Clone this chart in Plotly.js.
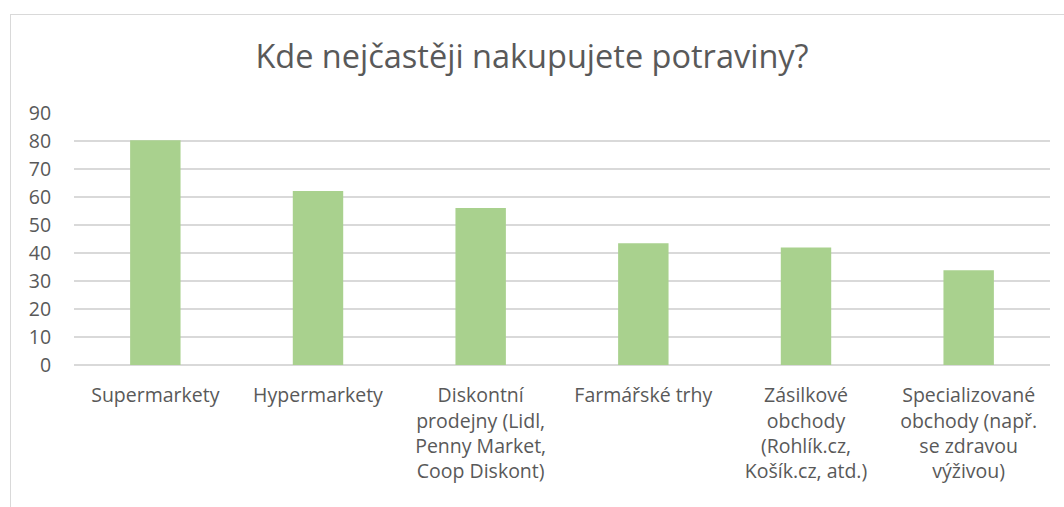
<!DOCTYPE html>
<html>
<head>
<meta charset="utf-8">
<script src="https://cdn.plot.ly/plotly-3.0.1.min.js"></script>
<style>
html,body{margin:0;padding:0;background:#fff;}
#chart{position:absolute;left:0;top:0;width:1064px;height:507px;}
#frame{position:absolute;left:10px;top:14px;width:1100px;height:600px;border:1px solid #d9d9d9;pointer-events:none;}
</style>
</head>
<body>
<div id="chart"></div>
<div id="frame"></div>
<script>
var categories = [
  "Supermarkety",
  "Hypermarkety",
  "Diskontní<br>prodejny (Lidl,<br>Penny Market,<br>Coop Diskont)",
  "Farmářské trhy",
  "Zásilkové<br>obchody<br>(Rohlík.cz,<br>Košík.cz, atd.)",
  "Specializované<br>obchody (např.<br>se zdravou<br>výživou)"
];
var values = [80.3, 62.1, 56.1, 43.5, 42, 33.8];
var yTicks = [0, 10, 20, 30, 40, 50, 60, 70, 80, 90];
var titleText = "Kde nejčastěji nakupujete potraviny?";

var font = "'Open Sans', Lato, sans-serif";
var trace = {
  type: "bar",
  x: categories,
  y: values,
  marker: {color: "#A9D18E"},
  hoverinfo: "x+y"
};
var layout = {
  width: 1064,
  height: 507,
  margin: {l: 74, r: 14, t: 113, b: 142, pad: 0},
  paper_bgcolor: "rgba(0,0,0,0)",
  plot_bgcolor: "rgba(0,0,0,0)",
  showlegend: false,
  bargap: 0.69,
  font: {family: font, color: "#595959", size: 19.5},
  title: {
    text: titleText,
    font: {family: font, size: 32.5, color: "#595959"},
    x: 0.5, xanchor: "center",
    y: 60, yref: "container", yanchor: "middle"
  },
  xaxis: {
    type: "category",
    tickangle: 0,
    showgrid: false,
    showline: false,
    zeroline: false,
    ticks: "outside",
    ticklen: 13,
    tickcolor: "rgba(0,0,0,0)",
    tickfont: {family: font, size: 19.5, color: "#595959"},
    automargin: false
  },
  yaxis: {
    range: [0, 90],
    tickvals: yTicks,
    ticktext: yTicks.map(String),
    showgrid: true,
    gridcolor: "#d9d9d9",
    gridwidth: 1.4,
    zeroline: true,
    zerolinecolor: "#d9d9d9",
    zerolinewidth: 1.4,
    showline: false,
    ticks: "outside",
    ticklen: 18,
    tickcolor: "rgba(0,0,0,0)",
    tickfont: {family: font, size: 19.5, color: "#595959"},
    automargin: false,
    fixedrange: true
  }
};
Plotly.newPlot("chart", [trace], layout, {displayModeBar: false, staticPlot: true});
</script>
</body>
</html>
